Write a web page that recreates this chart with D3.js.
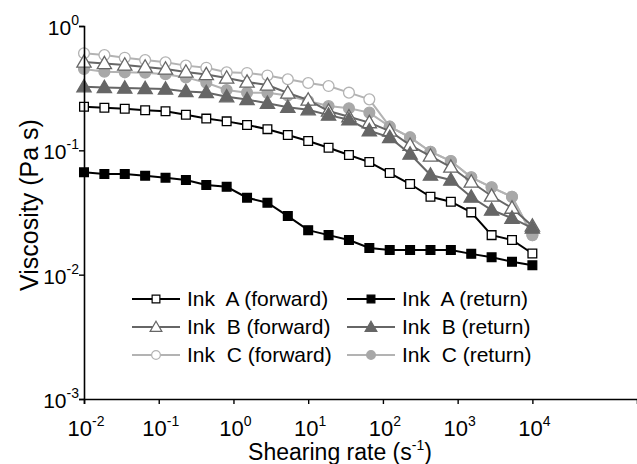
<!DOCTYPE html>
<html>
<head>
<meta charset="utf-8">
<script src="https://cdn.jsdelivr.net/npm/d3@7"></script>
<style>
  html, body { margin: 0; padding: 0; background: #fff; }
  svg { display: block; font-family: "Liberation Sans", Arial, sans-serif; }
</style>
</head>
<body>
<svg id="chart" width="637" height="464"></svg>
<script>
// Shear rates: 23 log-spaced points, 1e-2 .. 1e4
const shearExponents = d3.range(0, 23).map(i => -2 + i * 6 / 22);
const shearRates = shearExponents.map(e => Math.pow(10, e));

const inkAForward = [0.224,0.220,0.216,0.210,0.206,0.193,0.180,0.171,0.160,0.148,0.133,0.119,0.105,0.0917,0.0805,0.0657,0.0536,0.0423,0.0386,0.0317,0.0208,0.0190,0.0148];
const inkAReturn  = [0.0665,0.0645,0.0645,0.0625,0.0602,0.0577,0.0526,0.0509,0.0416,0.0379,0.0296,0.0228,0.0208,0.0190,0.0164,0.0158,0.0158,0.0158,0.0158,0.0147,0.0138,0.0127,0.0119];
const inkBForward = [0.513,0.499,0.486,0.468,0.451,0.427,0.407,0.382,0.354,0.335,0.289,0.254,0.207,0.186,0.167,0.143,0.110,0.0900,0.0734,0.0556,0.0429,0.0343,0.0246];
const inkBReturn  = [0.325,0.320,0.317,0.314,0.311,0.297,0.292,0.270,0.256,0.239,0.222,0.212,0.192,0.176,0.144,0.127,0.0934,0.0633,0.0577,0.0421,0.0331,0.0285,0.0237];
const inkCForward = [0.603,0.584,0.556,0.532,0.511,0.480,0.462,0.424,0.419,0.400,0.373,0.348,0.329,0.291,0.257,0.155,0.127,0.0975,0.0820,0.0607,0.0504,0.0423,0.0208];
const inkCReturn  = [0.451,0.429,0.424,0.421,0.409,0.386,0.350,0.306,0.291,0.290,0.276,0.249,0.227,0.218,0.201,0.155,0.127,0.0975,0.0820,0.0607,0.0504,0.0423,0.0208];

const xTickExponents = [-2, -1, 0, 1, 2, 3, 4];
const yTickExponents = [-3, -2, -1, 0];

const seriesNames = ["Ink  A (forward)", "Ink  A (return)", "Ink  B (forward)", "Ink  B (return)", "Ink  C (forward)", "Ink  C (return)"];

const styles = {
  "Ink  A (forward)": {line: "#000000", stroke: "#000000", fill: "#ffffff", shape: "square"},
  "Ink  A (return)":  {line: "#000000", stroke: "#000000", fill: "#000000", shape: "square"},
  "Ink  B (forward)": {line: "#666666", stroke: "#666666", fill: "#ffffff", shape: "triangle"},
  "Ink  B (return)":  {line: "#666666", stroke: "#666666", fill: "#666666", shape: "triangle"},
  "Ink  C (forward)": {line: "#b3b3b3", stroke: "#b3b3b3", fill: "#ffffff", shape: "circle"},
  "Ink  C (return)":  {line: "#b3b3b3", stroke: "#a8a8a8", fill: "#a8a8a8", shape: "circle"}
};
const dataByName = {
  "Ink  A (forward)": inkAForward,
  "Ink  A (return)": inkAReturn,
  "Ink  B (forward)": inkBForward,
  "Ink  B (return)": inkBReturn,
  "Ink  C (forward)": inkCForward,
  "Ink  C (return)": inkCReturn
};
const drawOrder = ["Ink  C (forward)", "Ink  C (return)", "Ink  B (forward)", "Ink  B (return)", "Ink  A (return)", "Ink  A (forward)"];

const svg = d3.select("#chart");
const x = d3.scaleLog().domain([1e-2, Math.pow(10, 5.4)]).range([84, 637]);
const y = d3.scaleLog().domain([1e-3, 1]).range([399, 26]);

function symbolFor(shape, size) {
  const t = shape === "square" ? d3.symbolSquare : shape === "triangle" ? d3.symbolTriangle : d3.symbolCircle;
  return d3.symbol().type(t).size(size)();
}
const markerSize = {square: 76, triangle: 88, circle: 92};

const line = d3.line().x(d => x(d[0])).y(d => y(d[1]));
const plot = svg.append("g");
drawOrder.forEach(name => {
  const st = styles[name];
  const pts = dataByName[name].map((v, i) => [shearRates[i], v]);
  const g = plot.append("g");
  g.append("path").datum(pts).attr("d", line)
    .attr("fill", "none").attr("stroke", st.line).attr("stroke-width", 2);
  g.selectAll("path.m").data(pts).enter().append("path").attr("class", "m")
    .attr("d", symbolFor(st.shape, markerSize[st.shape]))
    .attr("transform", d => `translate(${x(d[0])},${y(d[1]) + (st.shape === "triangle" ? 1 : 0)})`)
    .attr("fill", st.fill).attr("stroke", st.stroke).attr("stroke-width", 1.3);
});

// axes
const xAxis = d3.axisBottom(x).tickValues(xTickExponents.map(e => Math.pow(10, e))).tickSize(5).tickFormat("");
const yAxis = d3.axisLeft(y).tickValues(yTickExponents.map(e => Math.pow(10, e))).tickSize(5).tickFormat("");
const gx = svg.append("g").attr("transform", "translate(0,399)").call(xAxis);
const gy = svg.append("g").attr("transform", "translate(84,0)").call(yAxis);
[gx, gy].forEach(g => {
  g.select(".domain").attr("stroke", "#000").attr("stroke-width", 1.6);
  g.selectAll(".tick line").attr("stroke", "#000").attr("stroke-width", 1.4);
});

// tick labels with superscripts
xTickExponents.forEach(e => {
  const t = svg.append("text").attr("x", x(Math.pow(10, e)) + 2).attr("y", 436)
    .attr("text-anchor", "middle").attr("font-size", 22).attr("fill", "#000");
  t.append("tspan").text("10");
  t.append("tspan").attr("font-size", 14).attr("dy", -10).text(String(e));
});
yTickExponents.forEach(e => {
  const t = svg.append("text").attr("x", 79).attr("y", y(Math.pow(10, e)) + 9)
    .attr("text-anchor", "end").attr("font-size", 21).attr("fill", "#000");
  t.append("tspan").text("10");
  t.append("tspan").attr("font-size", 14).attr("dy", -10).text(String(e));
});

// axis titles
const xt = svg.append("text").attr("x", 340).attr("y", 460).attr("text-anchor", "middle")
  .attr("font-size", 23).attr("fill", "#000");
xt.append("tspan").text("Shearing rate (s");
xt.append("tspan").attr("font-size", 14).attr("dy", -10).text("-1");
xt.append("tspan").attr("dy", 10).text(")");

svg.append("text").attr("transform", "translate(38,205) rotate(-90)").attr("text-anchor", "middle")
  .attr("font-size", 25).attr("fill", "#000").text("Viscosity (Pa s)");

// legend
const legendCols = [132, 347];
const legendRows = [299, 327, 355];
seriesNames.forEach((name, i) => {
  const st = styles[name];
  const lx = legendCols[i % 2], ly = legendRows[Math.floor(i / 2)];
  const g = svg.append("g");
  g.append("line").attr("x1", lx).attr("x2", lx + 48).attr("y1", ly).attr("y2", ly)
    .attr("stroke", st.line).attr("stroke-width", 2);
  g.append("path").attr("d", symbolFor(st.shape, 60))
    .attr("transform", `translate(${lx + 24},${ly + (st.shape === "triangle" ? 1 : 0)})`)
    .attr("fill", st.fill).attr("stroke", st.stroke).attr("stroke-width", 1.2);
  g.append("text").attr("x", lx + 55).attr("y", ly + 7).attr("font-size", 21)
    .attr("fill", "#000").style("white-space", "pre").attr("xml:space", "preserve").text(name);
});
</script>
</body>
</html>
